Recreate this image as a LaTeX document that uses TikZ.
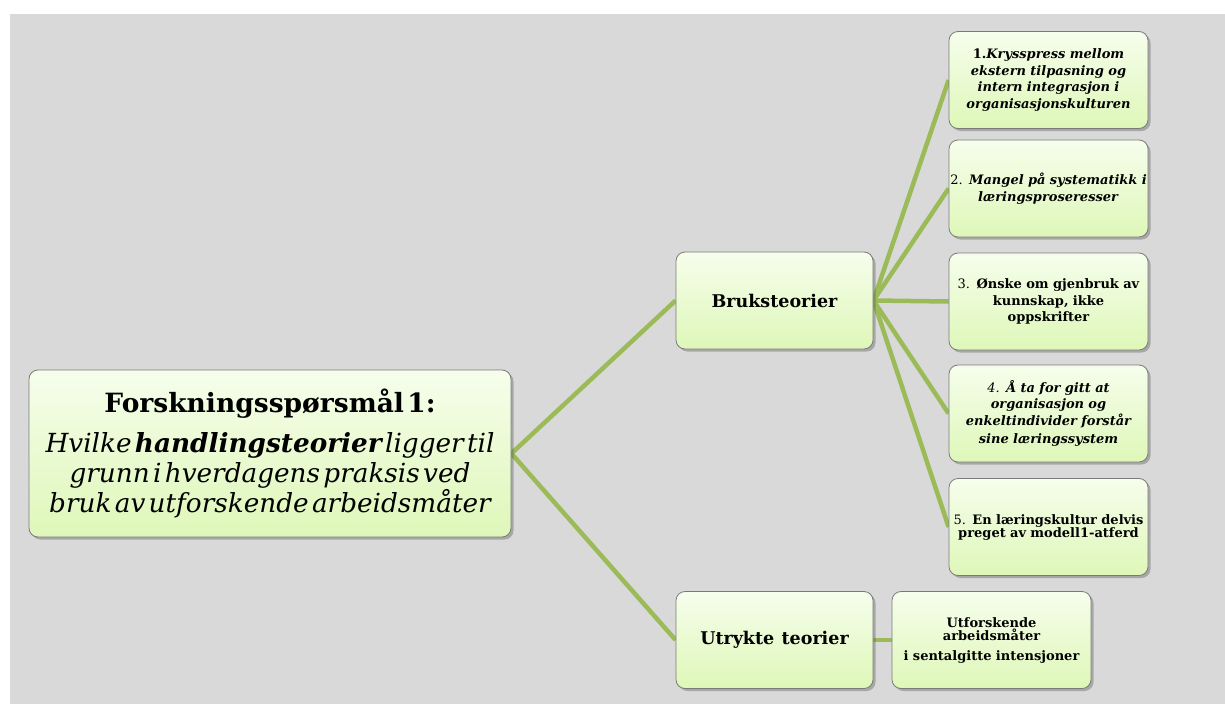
\documentclass[tikz,border=0pt]{standalone}
\usepackage{fontspec}
\setmainfont{DejaVu Serif}[WordSpace=1.2]
\usetikzlibrary{shadows,backgrounds}
\definecolor{bgGray}{HTML}{D9D9D9}
\definecolor{linkGreen}{HTML}{9BBB59}
\definecolor{boxTop}{HTML}{F6FEEC}
\definecolor{boxBottom}{HTML}{DEF7B8}
\definecolor{boxEdge}{HTML}{7A7A7A}
\tikzset{
  box/.style={draw=boxEdge, line width=0.8pt, rounded corners=9pt,
    top color=boxTop, bottom color=boxBottom, align=center,
    inner sep=2pt,
    drop shadow={shadow xshift=2.5pt, shadow yshift=-2.5pt, opacity=0.35, fill=black!70}},
  leafbox/.style={box, minimum width=197pt, minimum height=97pt, text width=195pt,
    font=\fontsize{13}{16.5}\selectfont},
  midbox/.style={box, minimum width=197pt, minimum height=97pt,
    font=\fontsize{17.5}{22}\selectfont\bfseries},
  link/.style={draw=linkGreen, line width=4.5pt}
}
\begin{document}
\begin{tikzpicture}[x=1pt,y=-1pt]
\useasboundingbox (0,0) rectangle (1225,704);

% root question
\node[box, minimum width=480pt, minimum height=167pt, text width=478pt] (root) at (270,453.5)
  {{\fontsize{26.5}{30}\selectfont\bfseries Forskningsspørsmål 1:}\\[10pt]
   {\fontsize{26.3}{30}\selectfont\itshape Hvilke \textbf{handlingsteorier} ligger til\\
    grunn i hverdagens praksis ved\\
    bruk av utforskende arbeidsmåter}};

% second level
\node[midbox] (bruk) at (774.5,300.5) {Bruksteorier};
\node[midbox] (utr) at (774.5,640) {Utrykte teorier};

% leaves under Bruksteorier
\node[leafbox] (l1) at (1048.5,80)
  {\textbf{1.}\textbf{\itshape Krysspress mellom\\ ekstern tilpasning og\\ intern integrasjon i\\ organisasjonskulturen}};
\node[leafbox] (l2) at (1048.5,188.5)
  {\makebox[195pt][c]{2. \textbf{\itshape Mangel på systematikk i}}\\ \textbf{\itshape læringsproseresser}};
\node[leafbox] (l3) at (1048.5,301.5)
  {3. \textbf{Ønske om gjenbruk av\\ kunnskap, ikke\\ oppskrifter}};
\node[leafbox] (l4) at (1048.5,413.5)
  {{\itshape 4.} \textbf{\itshape Å ta for gitt at\\ organisasjon og\\ enkeltindivider forstår\\[2pt] sine læringssystem}};
\node[leafbox, font=\fontsize{13}{13}\selectfont] (l5) at (1048.5,527)
  {5. \textbf{En læringskultur delvis\\ preget av modell1-atferd}};

% leaf under Utrykte teorier
\node[box, minimum width=197pt, minimum height=97pt, text width=195pt,
      font=\fontsize{13}{13}\selectfont\bfseries] (utf) at (991.5,640)
  {Utforskende\\ arbeidsmåter\\[7pt] i sentalgitte intensjoner};

% backdrop and connectors, kept behind the boxes
\begin{scope}[on background layer]
  \fill[bgGray] (10,14) rectangle (1225,704);
  \draw[link] (root.east) -- (bruk.west);
  \draw[link] (root.east) -- (utr.west);
  \foreach \leaf in {l1,l2,l3,l4,l5}
    \draw[link] (bruk.east) -- (\leaf.west);
  \draw[link] (utr.east) -- (utf.west);
\end{scope}
\end{tikzpicture}
\end{document}
